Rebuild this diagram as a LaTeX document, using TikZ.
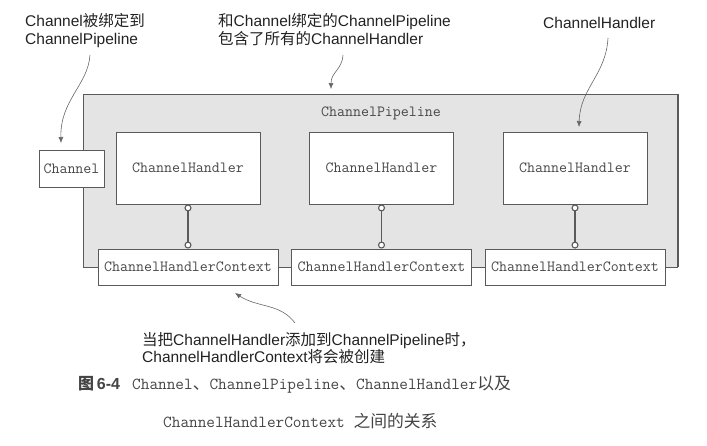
\documentclass[tikz,border=0pt]{standalone}
\usepackage{fontspec}
\setmainfont{Liberation Sans}
\newfontfamily\cjk{Noto Sans CJK SC}
\usetikzlibrary{arrows.meta}
\definecolor{boxline}{HTML}{5A5A5A}
\definecolor{boxtext}{HTML}{484848}
\definecolor{pipefill}{HTML}{E4E4E4}
\definecolor{notetext}{HTML}{222222}
\definecolor{pointcol}{HTML}{666666}
\definecolor{captext}{HTML}{444444}
\tikzset{
  monotext/.style={font=\ttfamily\fontsize{15.5}{18}\selectfont, text=boxtext},
  boxbase/.style={draw=boxline, line width=0.9pt, fill=white, inner sep=0pt, monotext},
  handlerbox/.style={boxbase, minimum width=144pt, minimum height=72pt},
  ctxbox/.style={boxbase, minimum width=180pt, minimum height=36pt},
  chanbox/.style={boxbase, minimum width=65pt, minimum height=37pt},
  pipebox/.style={draw=boxline, line width=0.9pt, fill=pipefill, minimum width=594pt, minimum height=173pt, inner sep=0pt},
  note/.style={font=\fontsize{15.5}{18}\selectfont, text=notetext, anchor=base west, inner sep=0pt},
  captxt/.style={text=captext, anchor=base west, inner sep=0pt},
  pointer/.style={draw=pointcol, line width=0.6pt, -{Latex[length=6pt,width=5pt]}},
  link/.style={draw=boxline, line width=1.1pt, {Circle[fill=white,length=7pt]}-{Circle[fill=white,length=7pt]}},
}
\begin{document}
\begin{tikzpicture}[x=1pt,y=-1pt]
\useasboundingbox (0,0) rectangle (707,445);
% pipeline
\node[pipebox] (pipe) at (380,180.5) {};
\draw[draw=boxline, line width=2pt] ([xshift=0.5pt]pipe.north east) -- ([xshift=0.5pt]pipe.south east);
\node[monotext, inner sep=0pt] (pipelabel) at (381,113) {ChannelPipeline};
% boxes
\node[chanbox] (chan) at (71.5,168.5) {Channel};
\node[handlerbox] (h1) at (188,168) {ChannelHandler};
\node[handlerbox] (h2) at (381.5,168) {ChannelHandler};
\node[handlerbox] (h3) at (575,168) {ChannelHandler};
\node[ctxbox] (c1) at (188,267) {ChannelHandlerContext};
\node[ctxbox] (c2) at (381.5,267) {ChannelHandlerContext};
\node[ctxbox] (c3) at (575,267) {ChannelHandlerContext};
\draw[link] (h1.south) -- (c1.north);
\draw[link] (h2.south) -- (c2.north);
\draw[link] (h3.south) -- (c3.north);
% notes
\node[note] (n1a) at (25,26.5) {Channel{\cjk 被绑定到}};
\node[note] (n1b) at (25,44.5) {ChannelPipeline};
\node[note] (n2a) at (218,26.5) {{\cjk 和}Channel{\cjk 绑定的}ChannelPipeline};
\node[note] (n2b) at (218,44.5) {{\cjk 包含了所有的}ChannelHandler};
\node[note] (n3) at (543,28.5) {ChannelHandler};
\node[note] (n4a) at (142,345.5) {{\cjk 当把}ChannelHandler{\cjk 添加到}ChannelPipeline{\cjk 时，}};
\node[note] (n4b) at (142,362.5) {ChannelHandlerContext{\cjk 将会被创建}};
% pointer ends
\coordinate (p1s) at (90,55);
\coordinate (p1e) at (61,143);
\coordinate (p2s) at (343,55);
\coordinate (p2e) at (331,89);
\coordinate (p3s) at (608,38);
\coordinate (p3e) at (579,127);
\coordinate (p4s) at (295,323);
\coordinate (p4e) at (235,293);
\draw[pointer] (p1s) .. controls (88,85) and (60,100) .. (p1e);
\draw[pointer] (p2s) .. controls (342,70) and (331,72) .. (p2e);
\draw[pointer] (p3s) .. controls (606,75) and (580,88) .. (p3e);
\draw[pointer] (p4s) .. controls (280,303) and (258,308) .. (p4e);
% caption
\node[captxt, font=\bfseries\fontsize{16}{18}\selectfont] (fig) at (78,389) {{\cjk\bfseries 图}\,6-4};
\node[captxt, font=\ttfamily\fontsize{16.8}{18}\selectfont] (cap1) at (132,389) {Channel{\cjk 、}ChannelPipeline{\cjk 、}ChannelHandler{\cjk 以及}};
\node[captxt, font=\ttfamily\fontsize{16.8}{18}\selectfont] (cap2) at (163,427) {ChannelHandlerContext {\cjk 之间的关系}};
\end{tikzpicture}
\end{document}
